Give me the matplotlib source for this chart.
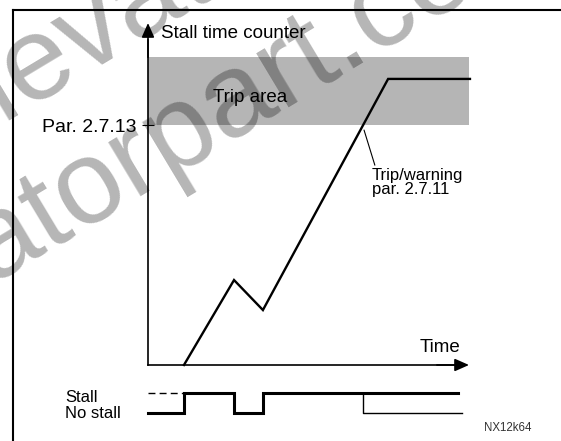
import matplotlib.pyplot as plt

W, H = 561, 441

# ---- data ----
# stall time counter (time units, counter units)
curve_t = [1.12, 2.68, 3.58, 7.48, 10.03]
curve_v = [0, 35.4, 22.9, 119.2, 119.2]

time_max = 10
counter_max = 142.5
trip_level = 100          # Par. 2.7.13
trip_area_top = 128.3

# stall / no stall signal (1 = stall, 0 = no stall)
stall_t = [0, 1.12, 1.12, 2.68, 2.68, 3.58, 3.58, 9.66]
stall_v = [0, 0, 1, 1, 0, 0, 1, 1]
after_trip_t = [6.7, 6.7, 9.78]
after_trip_v = [1, 0, 0]
dash_t = [0, 1.12]
dash_v = [1, 1]

trip_point = (6.73, 97.9)


def fx(px):
    return px / W


def fy(py):
    return 1 - py / H


plt.rcParams['font.family'] = ['Liberation Sans', 'DejaVu Sans']
fig = plt.figure(figsize=(W / 100, H / 100), dpi=100)

# outer frame (left + top only)
frame = fig.add_axes([fx(13), 0, 1 - fx(13), fy(10)])
frame.set_xticks([])
frame.set_yticks([])
frame.spines[['right', 'bottom']].set_visible(False)
frame.spines[['left', 'top']].set_linewidth(1.5)
frame.patch.set_visible(False)

# ---- main chart ----
ax = fig.add_axes([fx(148), fy(365), fx(469) - fx(148), fy(23) - fy(365)])
ax.set_xlim(0, time_max)
ax.set_ylim(0, counter_max)
ax.patch.set_visible(False)
ax.spines[['top', 'right']].set_visible(False)
ax.spines['left'].set_bounds(0, counter_max * 0.95)
ax.spines['bottom'].set_bounds(0, time_max * 0.97)
ax.spines[['left', 'bottom']].set_linewidth(1.2)
ax.set_xticks([])
ax.set_yticks([trip_level], ['Par. 2.7.13'])
ax.tick_params(axis='y', direction='inout', length=9, width=0.8,
               labelsize=14, pad=4)

arrow = dict(arrowstyle='-|>,head_length=0.86,head_width=0.38',
             color='k', lw=1.2, shrinkA=0, shrinkB=0)
ax.annotate('', xy=(1, 0), xytext=(0.9, 0), xycoords='axes fraction',
            arrowprops=arrow)
ax.annotate('', xy=(0, 1), xytext=(0, 0.9), xycoords='axes fraction',
            arrowprops=arrow)

ax.axhspan(trip_level, trip_area_top, xmin=0, xmax=1.006,
           color='#b5b5b5', lw=0, zorder=0)
ax.plot(curve_t, curve_v, color='k', lw=1.7, clip_on=False,
        solid_joinstyle='miter')

ax.annotate('Trip/warning\npar. 2.7.11', xy=trip_point, xytext=(6.98, 82.1),
            ha='left', va='top', fontsize=12, linespacing=0.95,
            arrowprops=dict(arrowstyle='-', lw=0.8, color='k',
                            shrinkA=0, shrinkB=0, relpos=(0.04, 1.0)))

fig.text(fx(161), fy(33), 'Stall time counter', fontsize=13.5,
         ha='left', va='center')
fig.text(fx(213), fy(97), 'Trip area', fontsize=13.5, ha='left', va='center')
fig.text(fx(420), fy(347), 'Time', fontsize=13.5, ha='left', va='center')

# ---- stall signal ----
sig = fig.add_axes([fx(148), fy(423), fx(469) - fx(148), fy(383) - fy(423)])
sig.set_xlim(0, time_max)
sig.set_ylim(-0.5, 1.5)
sig.axis('off')
sig.plot(stall_t, stall_v, color='k', lw=2.2, solid_joinstyle='miter',
         clip_on=False)
sig.plot(after_trip_t, after_trip_v, color='k', lw=1.0, clip_on=False)
sig.plot(dash_t, dash_v, color='k', lw=1.0, dashes=(5, 3), clip_on=False)

fig.text(fx(65), fy(397), 'Stall', fontsize=12, ha='left', va='center')
fig.text(fx(65), fy(413), 'No stall', fontsize=12, ha='left', va='center')
fig.text(fx(484), fy(428), 'NX12k64', fontsize=8.3, color='#333333',
         ha='left', va='center')

# watermark
for x0, y0 in [(-54, 156), (-196, 396)]:
    fig.text(fx(x0), fy(y0), 'elevatorpart.com', rotation=31,
             rotation_mode='anchor', ha='left', va='baseline',
             fontsize=86, color='k', alpha=0.29, zorder=10)

fig.savefig('out.png', dpi=100)
